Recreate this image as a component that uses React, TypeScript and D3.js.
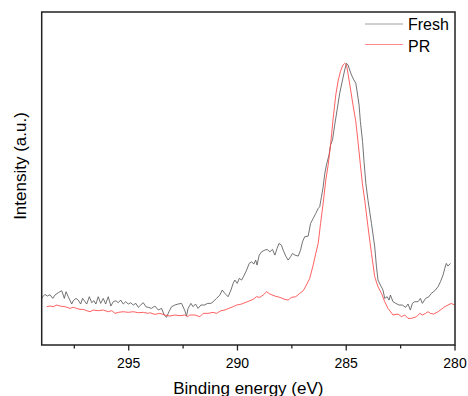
import React from "react";
import * as d3 from "d3";

// C 1s region, binding energy (eV) and intensity (a.u.)
const freshEnergy = [
  299.0, 298.95, 298.85, 298.74, 298.62, 298.49, 298.39, 298.24, 298.08, 298.01,
  297.96, 297.88, 297.78, 297.62, 297.55, 297.42, 297.32, 297.21, 297.12, 297.01,
  296.93, 296.81, 296.7, 296.6, 296.51, 296.4, 296.29, 296.17, 296.06, 295.94,
  295.82, 295.71, 295.59, 295.48, 295.37, 295.25, 295.14, 295.02, 294.91, 294.79,
  294.67, 294.56, 294.45, 294.33, 294.21, 294.1, 293.95, 293.8, 293.64, 293.49,
  293.37, 293.26, 293.15, 293.03, 292.88, 292.73, 292.57, 292.42, 292.34, 292.27,
  292.14, 292.04, 291.93, 291.81, 291.68, 291.53, 291.37, 291.22, 291.12, 290.96,
  290.81, 290.7, 290.58, 290.43, 290.3, 290.2, 290.12, 290.01, 289.92, 289.81,
  289.71, 289.58, 289.46, 289.35, 289.25, 289.16, 289.1, 289.0, 288.89, 288.74,
  288.64, 288.51, 288.39, 288.28, 288.18, 288.09, 287.98, 287.9, 287.78, 287.67,
  287.56, 287.47, 287.36, 287.21, 287.1, 287.01, 286.91, 286.75, 286.64, 286.52,
  286.4, 286.29, 286.22, 286.14, 286.06, 285.99, 285.91, 285.79, 285.72, 285.63,
  285.53, 285.42, 285.3, 285.17, 285.07, 284.99, 284.92, 284.84, 284.76, 284.65,
  284.56, 284.5, 284.41, 284.35, 284.25, 284.18, 284.1, 284.0, 283.84, 283.69,
  283.61, 283.54, 283.43, 283.31, 283.23, 283.12, 283.03, 282.97, 282.85, 282.72,
  282.57, 282.42, 282.27, 282.16, 282.05, 281.96, 281.85, 281.7, 281.59, 281.5,
  281.35, 281.2, 281.09, 280.93, 280.78, 280.67, 280.55, 280.47, 280.4, 280.32,
  280.21,
];
const freshIntensity = [
  14.0, 14.5, 15.2, 14.7, 15.1, 14.0, 15.0, 15.7, 16.3, 15.0,
  14.0, 16.0, 14.5, 12.3, 13.3, 14.0, 13.5, 12.3, 14.0, 13.0,
  12.3, 14.5, 12.7, 13.3, 12.3, 14.5, 12.5, 14.0, 12.3, 14.5,
  11.7, 13.0, 13.3, 12.7, 13.5, 12.3, 13.0, 12.3, 12.7, 12.0,
  12.5, 11.3, 12.0, 12.7, 11.5, 11.3, 11.0, 11.7, 10.5, 11.0,
  9.0, 8.3, 10.0, 11.5, 12.0, 12.3, 12.5, 10.3, 8.7, 11.0,
  12.5, 11.5, 12.3, 11.0, 12.0, 12.0, 12.5, 12.5, 13.0, 14.0,
  15.0, 16.5, 15.5, 14.5, 16.5, 18.5, 19.5, 18.5, 20.0, 19.5,
  20.7, 22.5, 24.5, 25.0, 24.3, 25.5, 24.0, 27.0, 28.0, 28.5,
  28.7, 28.0, 28.7, 27.0, 29.0, 30.5, 30.0, 28.5, 26.7, 25.5,
  26.5, 27.5, 27.0, 26.7, 28.5, 31.0, 32.5, 32.7, 36.5, 38.0,
  39.5, 41.0, 41.5, 44.5, 47.5, 51.3, 54.1, 57.1, 60.1, 61.6,
  66.1, 70.6, 75.6, 79.6, 82.6, 84.6, 84.1, 82.6, 81.1, 79.6,
  78.6, 76.1, 72.1, 67.1, 61.1, 55.0, 48.6, 43.5, 36.5, 29.5,
  23.5, 19.5, 18.0, 16.5, 14.0, 14.5, 13.5, 15.0, 13.0, 12.5,
  12.0, 12.0, 11.3, 12.3, 10.5, 12.5, 13.0, 13.0, 14.0, 12.5,
  14.0, 14.5, 15.5, 16.3, 17.5, 19.0, 21.0, 23.0, 24.5, 23.7,
  24.5,
];

const prEnergy = [
  298.77, 298.62, 298.47, 298.31, 298.16, 297.93, 297.7, 297.55, 297.39, 297.24,
  297.09, 296.93, 296.78, 296.63, 296.4, 296.17, 295.94, 295.78, 295.63, 295.48,
  295.25, 295.02, 294.79, 294.56, 294.33, 294.1, 294.03, 293.8, 293.57, 293.34,
  293.11, 292.88, 292.65, 292.42, 292.29, 292.19, 291.96, 291.73, 291.58, 291.35,
  291.12, 290.96, 290.76, 290.58, 290.4, 290.2, 290.04, 289.81, 289.66, 289.43,
  289.28, 289.12, 288.97, 288.82, 288.66, 288.51, 288.28, 288.05, 287.82, 287.67,
  287.52, 287.32, 287.14, 286.98, 286.83, 286.68, 286.52, 286.4, 286.29, 286.18,
  286.06, 285.94, 285.83, 285.72, 285.6, 285.48, 285.38, 285.27, 285.15, 285.07,
  284.99, 284.92, 284.81, 284.69, 284.56, 284.46, 284.35, 284.26, 284.15, 284.0,
  283.84, 283.69, 283.54, 283.38, 283.23, 283.08, 282.85, 282.62, 282.46, 282.31,
  282.16, 282.0, 281.77, 281.62, 281.5, 281.35, 281.24, 281.13, 280.98, 280.78,
  280.63, 280.47, 280.32, 280.17, 280.02,
];
const prIntensity = [
  11.5, 11.7, 11.5, 12.0, 11.7, 11.5, 11.0, 11.3, 11.0, 10.7,
  10.7, 10.3, 10.0, 10.5, 10.3, 10.5, 10.0, 10.3, 9.5, 9.8,
  10.0, 9.8, 10.0, 9.7, 9.8, 9.5, 9.7, 9.2, 9.5, 9.0,
  8.7, 9.0, 8.8, 9.0, 8.5, 9.0, 9.0, 8.5, 9.5, 9.5,
  9.8, 9.5, 10.3, 10.5, 11.0, 11.5, 12.0, 12.3, 12.7, 13.3,
  13.7, 14.5, 14.3, 15.0, 16.0, 15.3, 14.7, 14.3, 13.7, 13.5,
  14.3, 14.5, 15.5, 16.3, 18.0, 20.0, 24.0, 27.5, 30.5, 36.5,
  42.6, 49.5, 54.1, 60.1, 68.1, 75.1, 79.1, 82.1, 84.1, 84.6,
  84.1, 81.6, 77.1, 72.1, 67.1, 61.1, 54.1, 48.6, 43.5, 35.5,
  27.5, 20.5, 17.5, 15.5, 13.0, 11.0, 9.0, 9.3, 8.5, 9.0,
  8.0, 8.0, 8.5, 9.5, 9.0, 9.5, 10.0, 9.5, 9.3, 10.0,
  10.7, 11.5, 12.0, 12.5, 12.0,
];

const seriesNames = ["Fresh", "PR"];
const seriesColors = ["#5a5a5a", "#ff4545"];
const legendColors = ["#a0a0a0", "#ff8a8a"];
const majorTicks = [295, 290, 285, 280];
const minorTicks = [297.5, 292.5, 287.5, 282.5];

const W = 468;
const H = 396;
const left = 41.7;
const right = 455;
const top = 12;
const bottom = 345;
const font = "Arial, 'Liberation Sans', sans-serif";

export default function App() {
  const x = d3.scaleLinear().domain([299, 280]).range([left, right]);
  const y = d3.scaleLinear().domain([0, 100]).range([bottom, top]);

  const line = d3
    .line<[number, number]>()
    .x((d) => x(d[0]))
    .y((d) => y(d[1]));

  const fresh = freshEnergy.map((e, i) => [e, freshIntensity[i]] as [number, number]);
  const pr = prEnergy.map((e, i) => [e, prIntensity[i]] as [number, number]);
  const series = [fresh, pr];

  return (
    <svg
      width={W}
      height={H}
      style={{ position: "absolute", left: 0, top: 0, background: "#fff" }}
      fontFamily={font}
    >
      <defs>
        <clipPath id="plot">
          <rect x={left} y={top} width={right - left} height={bottom - top} />
        </clipPath>
      </defs>

      <g clipPath="url(#plot)">
        {series.map((s, i) => (
          <path
            key={seriesNames[i]}
            d={line(s) ?? ""}
            fill="none"
            stroke={seriesColors[i]}
            strokeWidth={0.85}
          />
        ))}
      </g>

      {/* frame */}
      <rect
        x={left}
        y={top}
        width={right - left}
        height={bottom - top}
        fill="none"
        stroke="#222"
        strokeWidth={1.5}
      />

      {/* bottom axis ticks */}
      {majorTicks.map((t) => (
        <g key={"M" + t}>
          <line x1={x(t)} x2={x(t)} y1={bottom} y2={bottom + 5.5} stroke="#222" strokeWidth={1.3} />
          <text x={x(t)} y={368} fontSize={14} textAnchor="middle" fill="#000">
            {t}
          </text>
        </g>
      ))}
      {minorTicks.map((t) => (
        <line key={"m" + t} x1={x(t)} x2={x(t)} y1={bottom} y2={bottom + 3.5} stroke="#222" strokeWidth={1.3} />
      ))}

      {/* axis titles */}
      <text x={(left + right) / 2} y={394} fontSize={17} textAnchor="middle" fill="#000">
        Binding energy (eV)
      </text>
      <text
        transform={`translate(25.5,166) rotate(-90)`}
        fontSize={17}
        textAnchor="middle"
        fill="#000"
      >
        Intensity (a.u.)
      </text>

      {/* legend */}
      {seriesNames.map((n, i) => (
        <g key={"leg" + n}>
          <line
            x1={365}
            x2={403}
            y1={24 + i * 20.5}
            y2={24 + i * 20.5}
            stroke={legendColors[i]}
            strokeWidth={1}
          />
          <text x={408} y={30 + i * 21.5} fontSize={16} fill="#000">
            {n}
          </text>
        </g>
      ))}
    </svg>
  );
}
